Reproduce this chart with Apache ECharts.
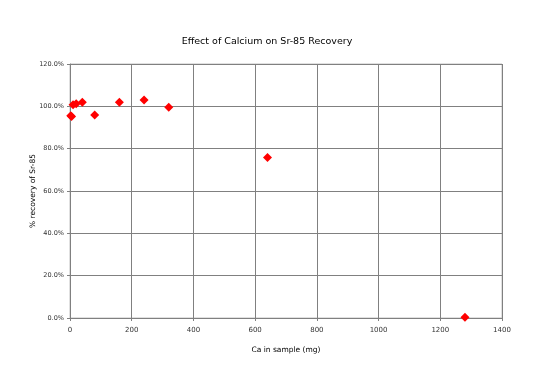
<!DOCTYPE html>
<html><head><meta charset="utf-8">
<script src="https://cdn.jsdelivr.net/npm/echarts@6/dist/echarts.min.js"></script>
<style>html,body{margin:0;padding:0;background:#fff}#c{width:550px;height:390px}</style>
</head><body><div id="c"></div>
<script>
const caMg = [2.5, 5, 10, 20, 40, 80, 160, 240, 320, 640, 1280];
const recoveryPct = [95.5, 95.2, 100.8, 101.2, 101.9, 95.9, 101.9, 103.0, 99.6, 75.8, 0.3];
const title = 'Effect of Calcium on Sr-85 Recovery';
const xName = 'Ca in sample (mg)';
const yName = '% recovery of Sr-85';

const chart = echarts.init(document.getElementById('c'), null, {renderer: 'canvas'});
const font = 'DejaVu Sans';
chart.setOption({
  animation: false,
  title: {text: title, left: 262, top: 32, textAlign: 'center',
    textStyle: {fontFamily: font, fontSize: 9.5, fontWeight: 'normal', color: '#000'}},
  grid: {left: 70, right: 48, top: 64, bottom: 72, show: true, borderColor: '#c0c0c0', borderWidth: 1},
  xAxis: {type: 'value', min: 0, max: 1400, interval: 200,
    name: xName, nameLocation: 'middle', nameGap: 28,
    nameTextStyle: {fontFamily: font, fontSize: 7.5, color: '#000'},
    axisLine: {lineStyle: {color: '#808080'}},
    axisTick: {show: true, length: 3, lineStyle: {color: '#808080'}},
    axisLabel: {fontFamily: font, fontSize: 7, color: '#333', margin: 9,
      formatter: v => String(v)},
    splitLine: {show: true, lineStyle: {color: '#808080', width: 1}}},
  yAxis: {type: 'value', min: 0, max: 120, interval: 20,
    name: yName, nameLocation: 'middle', nameGap: 33, nameRotate: 90,
    nameMoveOverlap: false,
    nameTextStyle: {fontFamily: font, fontSize: 7.5, color: '#000'},
    axisLine: {show: true, lineStyle: {color: '#808080'}},
    axisTick: {show: true, length: 3, lineStyle: {color: '#808080'}},
    axisLabel: {fontFamily: font, fontSize: 6.5, color: '#333', margin: 6,
      formatter: v => v.toFixed(1) + '%'},
    splitLine: {show: true, lineStyle: {color: '#808080', width: 1}}},
  series: [{type: 'scatter', symbol: 'diamond', symbolSize: 9,
    itemStyle: {color: '#ff0000', opacity: 1},
    data: caMg.map((x, i) => [x, recoveryPct[i]])}]
});
</script></body></html>
